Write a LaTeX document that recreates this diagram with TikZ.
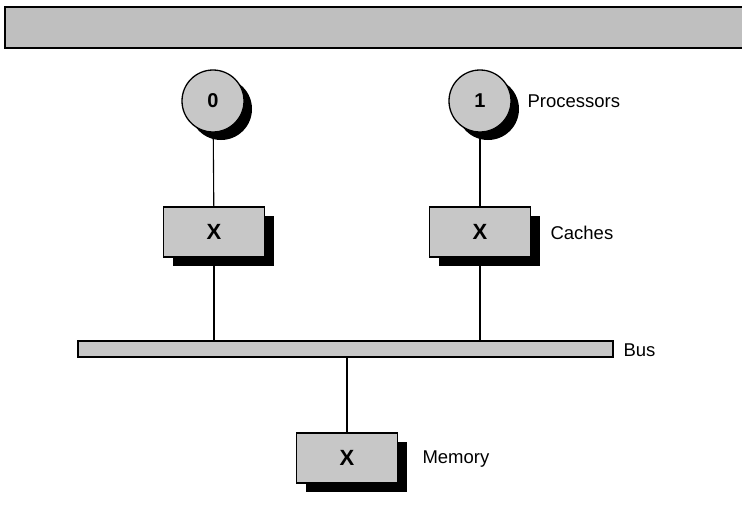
\documentclass[tikz,border=0pt]{standalone}
\usepackage{fontspec}
\setmainfont{Liberation Sans}
\usetikzlibrary{positioning,shadows}

\begin{document}
\begin{tikzpicture}[x=1pt,y=-1pt,
 proc/.style={circle,draw,line width=1.3pt,fill=black!22,minimum size=62pt,inner sep=0pt,
   font=\bfseries\fontsize{20}{22}\selectfont,
   drop shadow={shadow xshift=8pt,shadow yshift=-8pt,fill=black,opacity=1}},
 unit/.style={rectangle,draw,line width=1.3pt,fill=black!22,minimum width=101pt,minimum height=50pt,inner sep=0pt,
   font=\bfseries\fontsize{22}{24}\selectfont,
   drop shadow={shadow xshift=9pt,shadow yshift=-9pt,fill=black,opacity=1}},
 lbl/.style={anchor=west,font=\fontsize{18.5}{21}\selectfont},
 link/.style={line width=1.1pt}
]
\useasboundingbox (0,0) rectangle (742,511);
% banner across the top
\draw[line width=1.5pt,fill=black!25] (5,7) rectangle (745,48);

% processors
\node[proc] (p0) at (213,101) {0};
\node[proc] (p1) at (480,101) {1};
\node[lbl] (lp) at (524,101) {Processors};

% caches
\node[unit] (c0) at (214,232) {X};
\node[unit] (c1) at (480,232) {X};
\node[lbl] (lc) at (547,233) {Caches};

% bus
\node[rectangle,draw,line width=1.3pt,fill=black!22,minimum width=535pt,minimum height=16pt,inner sep=0pt] (bus) at (345.5,349) {};
\node[lbl] (lb) at (620,350) {Bus};

% memory
\node[unit] (mem) at (347,458) {X};
\node[lbl] (lm) at (419,459) {Memory};

\draw[link] (p0) -- (c0);
\draw[link] (p1) -- (c1);
\draw[link] (c0.south) -- (c0.south |- bus.north);
\draw[link] (c1.south) -- (c1.south |- bus.north);
\draw[link] (mem.north |- bus.south) -- (mem.north);
\end{tikzpicture}
\end{document}
